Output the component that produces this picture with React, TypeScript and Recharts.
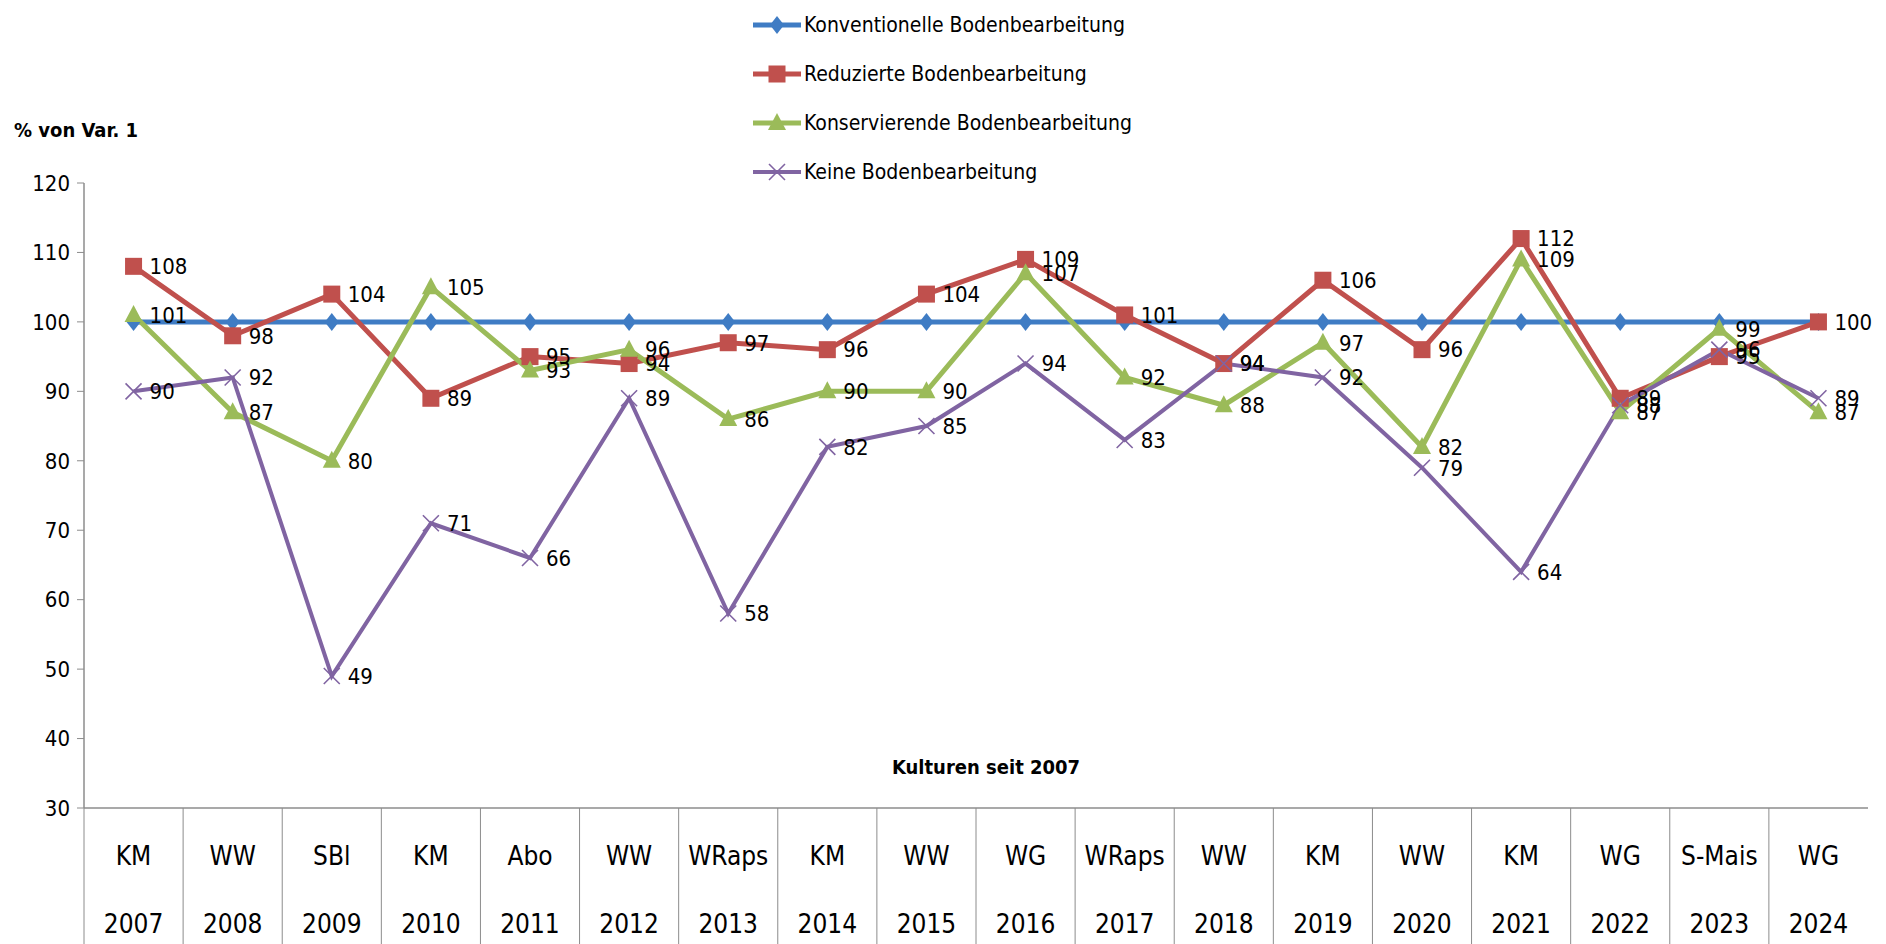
import { LineChart, Line, XAxis, YAxis, Legend, LabelList } from "recharts";

const categories = ["KM", "WW", "SBl", "KM", "Abo", "WW", "WRaps", "KM", "WW", "WG", "WRaps", "WW", "KM", "WW", "KM", "WG", "S-Mais", "WG"];
const years = ["2007", "2008", "2009", "2010", "2011", "2012", "2013", "2014", "2015", "2016", "2017", "2018", "2019", "2020", "2021", "2022", "2023", "2024"];

const konventionell = [100, 100, 100, 100, 100, 100, 100, 100, 100, 100, 100, 100, 100, 100, 100, 100, 100, 100];
const reduziert = [108, 98, 104, 89, 95, 94, 97, 96, 104, 109, 101, 94, 106, 96, 112, 89, 95, 100];
const konservierend = [101, 87, 80, 105, 93, 96, 86, 90, 90, 107, 92, 88, 97, 82, 109, 87, 99, 87];
const keine = [90, 92, 49, 71, 66, 89, 58, 82, 85, 94, 83, 94, 92, 79, 64, 88, 96, 89];

const yTicks = [30, 40, 50, 60, 70, 80, 90, 100, 110, 120];

const data = years.map((jahr, i) => ({
  jahr,
  kultur: categories[i],
  konv: konventionell[i],
  red: reduziert[i],
  kons: konservierend[i],
  keine: keine[i],
}));

const FONT = "'Liberation Sans Narrow', 'DejaVu Sans Condensed', 'DejaVu Sans', sans-serif";
const TXT = { fontFamily: FONT, fontStretch: "condensed" as const };
const W = 1886;
const H = 944;
const M = { top: 183, right: 18, bottom: 0, left: 0 };
const X_AXIS_H = 136;
const Y_AXIS_W = 84;
const BAND = (W - M.right - Y_AXIS_W) / categories.length;

const series = [
  { key: "konv", name: "Konventionelle Bodenbearbeitung", color: "#3f7cc4", shape: "diamond", labels: false, width: 5 },
  { key: "red", name: "Reduzierte Bodenbearbeitung", color: "#c0504d", shape: "square", labels: true, width: 5 },
  { key: "kons", name: "Konservierende Bodenbearbeitung", color: "#9bbb59", shape: "triangle", labels: true, width: 5 },
  { key: "keine", name: "Keine Bodenbearbeitung", color: "#8064a2", shape: "cross", labels: true, width: 4 },
];

function Marker({ shape, color, cx, cy }: { shape: string; color: string; cx: number; cy: number }) {
  if (cx == null || cy == null) return null;
  if (shape === "diamond") {
    return <path d={`M${cx},${cy - 9} L${cx + 7},${cy} L${cx},${cy + 9} L${cx - 7},${cy} Z`} fill={color} />;
  }
  if (shape === "square") {
    return <rect x={cx - 8.5} y={cy - 8.5} width={17} height={17} fill={color} />;
  }
  if (shape === "triangle") {
    return <path d={`M${cx},${cy - 10} L${cx + 9},${cy + 7} L${cx - 9},${cy + 7} Z`} fill={color} />;
  }
  return (
    <path
      d={`M${cx - 8},${cy - 8} L${cx + 8},${cy + 8} M${cx + 8},${cy - 8} L${cx - 8},${cy + 8}`}
      stroke={color}
      strokeWidth={1.6}
      fill="none"
    />
  );
}

function TableTick(props: any) {
  const { x, y, payload } = props;
  const i = payload.index;
  return (
    <g>
      <line x1={x - BAND / 2} y1={y} x2={x - BAND / 2} y2={H} stroke="#8c8c8c" strokeWidth={1} />
      <text x={x} y={y + 48} textAnchor="middle" dominantBaseline="central" fontSize={26} style={TXT} fill="#000">
        {categories[i]}
      </text>
      <text x={x} y={y + 116} textAnchor="middle" dominantBaseline="central" fontSize={26} style={TXT} fill="#000">
        {payload.value}
      </text>
    </g>
  );
}

function LegendContent() {
  return (
    <div>
      {series.map((s) => (
        <div key={s.key} style={{ display: "flex", alignItems: "center", height: 49 }}>
          <svg width={50} height={24}>
            <line x1={1} y1={12} x2={49} y2={12} stroke={s.color} strokeWidth={s.width} />
            <Marker shape={s.shape} color={s.color} cx={25} cy={12} />
          </svg>
          <span style={{ ...TXT, fontSize: 21, color: "#000", marginLeft: 2 }}>{s.name}</span>
        </div>
      ))}
    </div>
  );
}

export default function App() {
  return (
    <div style={{ position: "absolute", left: 0, top: 0, width: W, height: H, background: "#fff" }}>
      <LineChart width={W} height={H} data={data} margin={M}>
        <XAxis
          dataKey="jahr"
          tick={<TableTick />}
          tickLine={false}
          tickSize={0}
          tickMargin={0}
          interval={0}
          padding={{ left: BAND / 2, right: BAND / 2 }}
          axisLine={{ stroke: "#8c8c8c", strokeWidth: 1.5 }}
          height={X_AXIS_H}
        />
        <YAxis
          domain={[30, 120]}
          ticks={yTicks}
          width={Y_AXIS_W}
          tickSize={7}
          tickMargin={7}
          axisLine={{ stroke: "#8c8c8c", strokeWidth: 1.5 }}
          tickLine={{ stroke: "#8c8c8c" }}
          tick={{ fontSize: 22, fill: "#000", style: TXT }}
        />
        <Legend
          layout="horizontal"
          verticalAlign="middle"
          align="center"
          content={<LegendContent />}
          wrapperStyle={{ left: 752, top: 0, width: 420, height: 200 }}
        />
        {series.map((s) => (
          <Line
            key={s.key}
            dataKey={s.key}
            name={s.name}
            stroke={s.color}
            strokeWidth={s.width}
            isAnimationActive={false}
            dot={(p: any) => <Marker key={`${s.key}-${p.index}`} shape={s.shape} color={s.color} cx={p.cx} cy={p.cy} />}
            activeDot={false}
          >
            {s.labels && (
              <LabelList dataKey={s.key} position="right" offset={16} fontSize={22} style={TXT} fill="#000" />
            )}
          </Line>
        ))}
      </LineChart>
      <div style={{ position: "absolute", left: 14, top: 118, ...TXT, fontSize: 20, fontWeight: "bold", color: "#000" }}>
        % von Var. 1
      </div>
      <div
        style={{
          position: "absolute",
          left: 986,
          top: 755,
          transform: "translateX(-50%)",
          ...TXT,
          fontSize: 20,
          fontWeight: "bold",
          color: "#000",
          whiteSpace: "nowrap",
        }}
      >
        Kulturen seit 2007
      </div>
    </div>
  );
}
